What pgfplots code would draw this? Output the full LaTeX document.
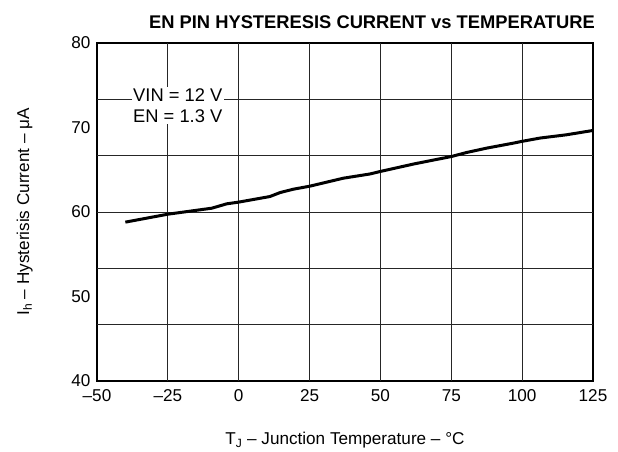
\documentclass[border=0pt]{standalone}
\usepackage{fontspec}
\setmainfont{Liberation Sans}
\usepackage{pgfplots}
\pgfplotsset{compat=1.18}
\begin{document}
\begin{tikzpicture}[x=1bp,y=1bp]
\path[use as bounding box] (-97bp,-71bp) rectangle (521bp,381bp);
\begin{axis}[
  at={(0,0)}, anchor=south west,
  scale only axis, width=496bp, height=338bp,
  xmin=-50, xmax=125, ymin=40, ymax=80,
  xtick={-50,-25,0,25,50,75,100,125},
  xticklabels={–50,–25,0,25,50,75,100,125},
  ytick={40,50,60,70,80},
  major tick length=0pt,
  tick style={draw=none},
  axis line style={line width=1.8bp},
  extra x ticks={-25,0,25,50,75,100},
  extra x tick labels={},
  extra x tick style={grid=major},
  extra y ticks={46.667,53.333,60,66.667,73.333},
  extra y tick labels={},
  extra y tick style={grid=major},
  grid style={line width=0.8bp, black!85},
  ticklabel style={font=\fontsize{17.2}{20}\selectfont},
  /pgf/number format/assume math mode=true,
  xticklabel style={yshift=-5bp},
  yticklabel style={xshift=-3bp},
  xlabel={T\textsubscript{J} – Junction Temperature – °C},
  ylabel={I\textsubscript{h} – Hysterisis Current – μA},
  label style={font=\fontsize{17.2}{20}\selectfont},
  xlabel style={yshift=-24bp},
  ylabel style={yshift=32bp},
  title={\textbf{EN PIN HYSTERESIS CURRENT vs TEMPERATURE}},
  title style={font=\fontsize{18.4}{21}\selectfont, yshift=5bp, xshift=27bp},
]
\addplot[black, line width=3bp] coordinates {
(-40,58.8) (-25,59.74) (-9.5,60.45) (-4.2,60.97) (0,61.17) (11,61.83) (14.6,62.3) (19.3,62.7) (25,63.05) (36.9,64.0) (46.3,64.5) (50,64.8) (62,65.7) (75.1,66.57) (80.4,67.04) (87.5,67.56) (96.9,68.15) (99.8,68.35) (106.3,68.75) (115.7,69.14) (125,69.65)
};
\node[fill=white, inner sep=1.5bp, align=center, font=\fontsize{18.4}{21}\selectfont] at (axis cs:-21.5,72.6) {VIN = 12 V\\EN = 1.3 V};
\end{axis}
\end{tikzpicture}
\end{document}
